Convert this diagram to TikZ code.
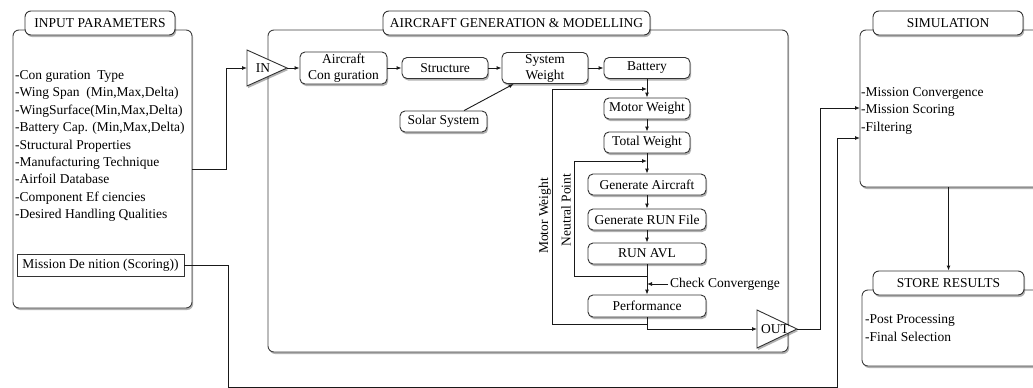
\documentclass[tikz,border=0pt]{standalone}
\usepackage{fontspec}
\setmainfont{Liberation Serif}
\usetikzlibrary{arrows.meta,shadows}
\begin{document}
\begin{tikzpicture}[x=1pt,y=-1pt,
  font=\fontsize{13.5}{16}\selectfont,
  line/.style={draw=black!90, line width=0.9pt},
  arr/.style={line, -{Latex[length=5pt,width=4pt]}},
  shad/.style={drop shadow={shadow xshift=1.2pt,shadow yshift=-2pt,fill=black,opacity=0.3}},
  sect/.style={draw=black!75, line width=0.9pt, fill=white, rounded corners=6pt, shad, inner sep=0pt},
  ttl/.style={draw=black!80, line width=0.9pt, fill=white, rounded corners=6pt, shad, inner sep=0pt},
  blk/.style={draw=black!80, line width=0.9pt, fill=white, rounded corners=5pt, shad, inner sep=0pt, align=center},
  tri/.style={draw=black!80, line width=0.9pt, fill=white, shad},
  item/.style={anchor=base west, inner sep=0pt},
]
\useasboundingbox (0,0) rectangle (1033,388);

% ---- section bodies
\node[sect, minimum width=179pt, minimum height=278pt] (inpBody) at (102.5,169) {};
\node[sect, minimum width=520pt, minimum height=322pt] (acBody) at (528,191) {};
\node[sect, minimum width=185pt, minimum height=157pt] (simBody) at (952.5,108.5) {};
\node[sect, minimum width=183pt, minimum height=76pt] (stBody) at (953.5,328) {};

% ---- section titles
\node[ttl, minimum width=150pt, minimum height=24pt] (inpTitle) at (100,23) {INPUT PARAMETERS};
\node[ttl, minimum width=267pt, minimum height=24pt] (acTitle) at (516.5,23) {AIRCRAFT GENERATION \& MODELLING};
\node[ttl, minimum width=150pt, minimum height=24pt] (simTitle) at (948,23) {SIMULATION};
\node[ttl, minimum width=151pt, minimum height=24pt] (stTitle) at (948.5,283) {STORE RESULTS};

% ---- input list
\foreach \t [count=\i] in {{-Con guration~ Type},{-Wing Span~ (Min,Max,Delta)},{-WingSurface(Min,Max,Delta)},{-Battery Cap. (Min,Max,Delta)},{-Structural Properties},{-Manufacturing Technique},{-Airfoil Database},{-Component Ef ciencies},{-Desired Handling Qualities}}
  \node[item] (inp\i) at (15,{79.5+17.4*(\i-1)}) {\t};
\node[draw=black!80, line width=0.9pt, fill=white, inner sep=0pt, minimum width=167pt, minimum height=22pt] (mis) at (100.5,265) {Mission De nition (Scoring))};

% ---- simulation and store lists
\node[item] (sim1) at (861,96) {-Mission Convergence};
\node[item] (sim2) at (861,113.5) {-Mission Scoring};
\node[item] (sim3) at (861,131) {-Filtering};
\node[item] (st1) at (865,323) {-Post Processing};
\node[item] (st2) at (865,341) {-Final Selection};

% ---- IN / OUT triangles
\draw[tri] (247,50) -- (287,68) -- (247,86) -- cycle;
\node[inner sep=0pt] (inLbl) at (263,68) {IN};
\coordinate (inW) at (247,68);
\coordinate (inE) at (287,68);
\draw[tri] (757,310) -- (797,329) -- (757,348) -- cycle;
\node[inner sep=0pt] (outLbl) at (775,329) {OUT};
\coordinate (outW) at (757,329);
\coordinate (outE) at (797,329);

% ---- blocks
\node[blk, minimum width=87pt, minimum height=32pt] (acfg) at (343.5,68) {Aircraft\\Con guration};
\node[blk, minimum width=86pt, minimum height=21pt] (struct) at (445,68) {Structure};
\node[blk, minimum width=86pt, minimum height=31pt] (sysw) at (545,68) {System\\Weight};
\node[blk, minimum width=86pt, minimum height=21pt] (batt) at (647,68) {Battery};
\node[blk, minimum width=87pt, minimum height=21pt] (solar) at (443.5,121.5) {Solar System};
\node[blk, minimum width=86pt, minimum height=21pt] (motor) at (647,108.5) {Motor Weight};
\node[blk, minimum width=86pt, minimum height=21pt] (total) at (647,142.5) {Total Weight};
\node[blk, minimum width=118pt, minimum height=21pt] (genA) at (647,184.5) {Generate Aircraft};
\node[blk, minimum width=118pt, minimum height=21pt] (genR) at (647,219.5) {Generate RUN File};
\node[blk, minimum width=118pt, minimum height=21pt] (runavl) at (647,253.5) {RUN AVL};
\node[blk, minimum width=118pt, minimum height=22pt] (perf) at (647,306) {Performance};

\node[rotate=90, inner sep=0pt] (mwLbl) at (545,216) {Motor Weight};
\node[rotate=90, inner sep=0pt] (npLbl) at (566,210) {Neutral Point};
\node[anchor=west, inner sep=0pt] (chk) at (670,284) {Check Convergenge};

% ---- connectors
\coordinate (inpOut) at (192,169);
\draw[arr] (inpOut) -- ++(34,0) |- (inW);
\draw[arr] (inE) -- (acfg.west);
\draw[arr] (acfg) -- (struct);
\draw[arr] (struct) -- (sysw);
\draw[arr] (sysw) -- (batt);
\draw[arr] (solar.28) -- (sysw.207);
\draw[arr] (batt) -- (motor);
\draw[arr] (motor) -- (total);
\draw[arr] (total) -- (genA);
\draw[arr] (genA) -- (genR);
\draw[arr] (genR) -- (runavl);
\draw[arr] (runavl) -- (perf);
\coordinate (mwS) at (647,324);
\coordinate (mwE) at (647,89);
\draw[arr] (mwS) -- ++(-95,0) |- (mwE);
\coordinate (npS) at (647,276);
\coordinate (npE) at (647,161);
\draw[arr] (npS) -- ++(-73,0) |- (npE);
\draw[arr] ([xshift=-2pt]chk.west) -- (chk.west -| perf.north);
\draw[arr] (perf.south) |- (outW);
\coordinate (simIn1) at (860,108);
\coordinate (simIn2) at (860,138);
\draw[arr] (outE) -- ++(23,0) |- (simIn1);
\coordinate (misCorner) at (837,387);
\draw[arr] (mis.east) -- ++(44,0) |- (misCorner) |- (simIn2);
\draw[arr] (stTitle.north |- simBody.south) -- (stTitle.north);
\end{tikzpicture}
\end{document}
